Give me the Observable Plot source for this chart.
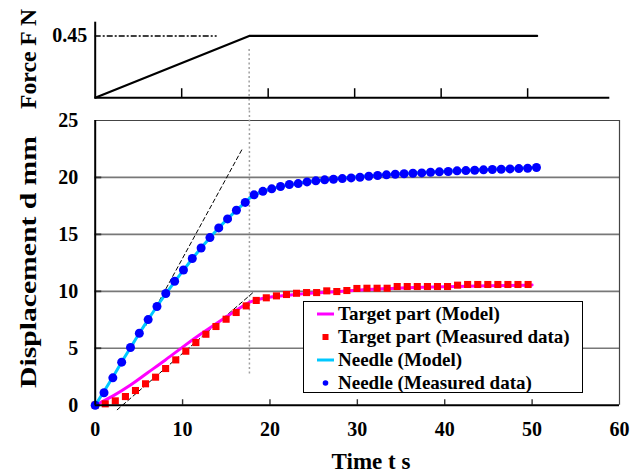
<!DOCTYPE html>
<html><head><meta charset="utf-8">
<script src="https://cdn.jsdelivr.net/npm/d3@7"></script>
<script src="https://cdn.jsdelivr.net/npm/@observablehq/plot@0.6"></script>
<style>
body{margin:0;background:#fff;}
#wrap{position:relative;width:639px;height:474px;overflow:hidden;font-family:"Liberation Serif","Times New Roman",serif;font-weight:bold;}
#wrap svg{display:block;}
#legend{position:absolute;left:303px;top:301px;width:280px;height:92px;border:1.5px solid #000;background:#fff;box-sizing:border-box;}
.row{position:absolute;left:0;height:22px;line-height:22px;font-size:19px;white-space:nowrap;}
.row svg{position:absolute;left:12px;top:0;}
.row span{position:absolute;left:34px;top:0;}
</style></head>
<body><div id="wrap"><div id="legend"></div></div>
<script>
// ---- data ----
const needleT = [0, 1.01, 2.02, 3.03, 4.04, 5.05, 6.06, 7.07, 8.08, 9.09, 10.1, 11.11, 12.12, 13.13, 14.14, 15.15, 16.16, 17.17, 18.18, 19.19, 20.2, 21.21, 22.22, 23.23, 24.24, 25.25, 26.26, 27.27, 28.28, 29.29, 30.3, 31.31, 32.32, 33.33, 34.34, 35.35, 36.36, 37.37, 38.38, 39.39, 40.4, 41.41, 42.42, 43.43, 44.44, 45.45, 46.46, 47.47, 48.48, 49.49, 50.5];
const needleD = [0, 1.09, 2.4, 3.78, 5.07, 6.32, 7.52, 8.67, 9.81, 10.88, 11.87, 12.88, 13.8, 14.72, 15.57, 16.36, 17.12, 17.81, 18.47, 18.78, 19.0, 19.2, 19.38, 19.46, 19.61, 19.7, 19.79, 19.84, 19.9, 19.96, 20.02, 20.1, 20.17, 20.23, 20.28, 20.32, 20.37, 20.4, 20.46, 20.49, 20.52, 20.58, 20.6, 20.63, 20.67, 20.7, 20.72, 20.75, 20.78, 20.81, 20.87];
const targetT = [0, 1.15, 2.3, 3.46, 4.61, 5.76, 6.91, 8.06, 9.22, 10.37, 11.52, 12.67, 13.82, 14.98, 16.13, 17.28, 18.43, 19.58, 20.74, 21.89, 23.04, 24.19, 25.34, 26.5, 27.65, 28.8, 29.95, 31.1, 32.26, 33.41, 34.56, 35.71, 36.86, 38.02, 39.17, 40.32, 41.47, 42.62, 43.78, 44.93, 46.08, 47.23, 48.38, 49.54];
const targetD = [0, 0.12, 0.38, 0.76, 1.29, 1.88, 2.46, 3.22, 3.98, 4.74, 5.5, 6.23, 6.91, 7.55, 8.14, 8.72, 9.2, 9.43, 9.6, 9.72, 9.83, 9.89, 9.89, 10.04, 9.98, 10.07, 10.25, 10.27, 10.27, 10.27, 10.42, 10.42, 10.42, 10.42, 10.42, 10.42, 10.54, 10.6, 10.6, 10.6, 10.6, 10.6, 10.6, 10.6];
const needleModelT = [0, 1, 2, 3, 4, 5, 6, 7, 8, 9, 10, 11, 12, 13, 14, 15, 16, 17, 17.7, 18.5, 19.5, 21, 23, 25, 28, 31, 35, 40, 45, 50.5];
const needleModelD = [0, 1.2, 2.45, 3.75, 5.0, 6.25, 7.45, 8.6, 9.7, 10.75, 11.75, 12.75, 13.7, 14.6, 15.45, 16.25, 17.0, 17.7, 18.2, 18.55, 18.85, 19.15, 19.45, 19.68, 19.92, 20.12, 20.33, 20.55, 20.7, 20.87];
const targetModelT = [0, 2, 4, 6, 8, 10, 12, 14, 16, 17.7, 19, 22, 25, 28, 31, 35, 40, 45, 50];
const targetModelD = [0, 0.8, 1.75, 2.85, 3.95, 5.1, 6.2, 7.25, 8.25, 9.05, 9.35, 9.65, 9.85, 9.98, 10.15, 10.3, 10.4, 10.48, 10.55];
const tangentNeedleT = [5.8, 16.9];
const tangentNeedleD = [7.0, 22.6];
const tangentTargetT = [2.52, 18.0];
const tangentTargetD = [-0.4, 9.85];
const forceT = [0, 17.8, 51.1];
const forceF = [0, 0.45, 0.45];
const forceRefEnd = 14.1;
const rampEndMain = 17.65;
const xTicks = [0, 10, 20, 30, 40, 50, 60];
const xInnerTicks = [10, 20, 30, 40, 50];
const yTicks = [0, 5, 10, 15, 20, 25];
const yGrid = [5, 10, 15, 20];
const forceTicks = [0.45];
const legendLabels = ["Target part (Model)", "Target part (Measured data)", "Needle (Model)", "Needle (Measured data)"];
const titles = {force: "Force F N", disp: "Displacement d mm", time: "Time t s"};
const colors = {targetModel: "#ff00ff", target: "#ff0000", needleModel: "#00c8ff", needle: "#0000ff"};

const font = '"Liberation Serif", "Times New Roman", serif';
const baseStyle = {fontFamily: font, fontWeight: "bold", fontSize: "20px", color: "#000", background: "transparent", overflow: "visible"};

// ---- top panel: force ----
const topPlot = Plot.plot({
  width: 639, height: 110,
  marginTop: 21.7, marginBottom: 12.7, marginLeft: 94.7, marginRight: 29.7,
  x: {domain: [0, 59.5]},
  y: {domain: [0, 0.55]},
  style: baseStyle,
  marks: [
    Plot.ruleY([forceTicks[0]], {x1: 0, x2: forceRefEnd, stroke: "#000", strokeWidth: 1.5, strokeDasharray: "6,2,2,2"}),
    Plot.ruleX([forceT[1]], {y1: 0.351, y2: -0.095, stroke: "#a0a0a0", strokeWidth: 1.5, strokeDasharray: "2,2.5"}),
    Plot.ruleX(xInnerTicks, {y1: 0, y2: 0.066, stroke: "#000", strokeWidth: 1.5}),
    Plot.ruleX([0], {stroke: "#000", strokeWidth: 2}),
    Plot.ruleY([0], {stroke: "#000", strokeWidth: 2}),
    Plot.line(forceT, {x: forceT, y: forceF, stroke: "#000", strokeWidth: 2.2}),
    Plot.axisY(forceTicks, {tickSize: 0, tickPadding: 8, label: null, tickFormat: d => d.toFixed(2)}),
    Plot.axisX([], {label: null, tickSize: 0})
  ]
});

// ---- main panel: displacement ----
const mainPlot = Plot.plot({
  width: 639, height: 364,
  marginTop: 10, marginBottom: 69.3, marginLeft: 94.7, marginRight: 20,
  x: {domain: [0, 60]},
  y: {domain: [0, 25]},
  style: baseStyle,
  marks: [
    Plot.ruleY(yGrid, {stroke: "#787878", strokeWidth: 1.7}),
    Plot.ruleY(yGrid, {x1: 0, x2: 0.75, stroke: "#333", strokeWidth: 1.8}),
    Plot.ruleY([25], {stroke: "#444", strokeWidth: 1.2}),
    Plot.ruleX([60], {stroke: "#444", strokeWidth: 1.2}),
    Plot.ruleX(xInnerTicks, {y1: 0, y2: 0.48, stroke: "#333", strokeWidth: 1.4}),
    Plot.ruleX([rampEndMain], {y1: 2.75, y2: 25.95, stroke: "#a0a0a0", strokeWidth: 1.5, strokeDasharray: "2,2.5"}),
    Plot.line(tangentNeedleT, {x: tangentNeedleT, y: tangentNeedleD, stroke: "#000", strokeWidth: 1, strokeDasharray: "4,3"}),
    Plot.line(tangentTargetT, {x: tangentTargetT, y: tangentTargetD, stroke: "#000", strokeWidth: 1, strokeDasharray: "4,3"}),
    Plot.line(targetModelT, {x: targetModelT, y: targetModelD, stroke: colors.targetModel, strokeWidth: 3, curve: "monotone-x"}),
    Plot.dot(targetT, {x: targetT, y: targetD, symbol: "square", fill: colors.target, r: 4}),
    Plot.line(needleModelT, {x: needleModelT, y: needleModelD, stroke: colors.needleModel, strokeWidth: 3, curve: "monotone-x"}),
    Plot.dot(needleT, {x: needleT, y: needleD, fill: colors.needle, r: 4.5}),
    Plot.ruleX([0], {stroke: "#000", strokeWidth: 2}),
    Plot.ruleY([0], {stroke: "#000", strokeWidth: 2}),
    Plot.axisY(yTicks, {tickSize: 0, tickPadding: 17, label: null}),
    Plot.axisX(xTicks, {tickSize: 0, tickPadding: 17, label: null})
  ]
});

// axis titles as real SVG text
function addTitle(svg, text, x, y, rotate, size, len) {
  const t = d3.select(svg).append("text")
    .attr("transform", `translate(${x},${y})` + (rotate ? ` rotate(${rotate})` : ""))
    .attr("text-anchor", "middle")
    .attr("dominant-baseline", "central")
    .attr("font-size", size)
    .attr("font-weight", "bold")
    .attr("fill", "#000")
    .text(text);
  if (len) t.attr("textLength", len).attr("lengthAdjust", "spacingAndGlyphs");
}
addTitle(topPlot, titles.force, 28, 59, -90, 23, 100);
addTitle(mainPlot, titles.disp, 28, 152, -90, 23, 252);
addTitle(mainPlot, titles.time, 371, 351.5, 0, 23, null);

const wrap = document.getElementById("wrap");
wrap.insertBefore(mainPlot, wrap.firstChild);
wrap.insertBefore(topPlot, wrap.firstChild);

// ---- legend (inside plot area) ----
const legend = document.getElementById("legend");
const rowCenters = [12, 34.8, 58, 80.7];
const swatches = [
  '<svg width="20" height="22"><line x1="1" y1="11" x2="18" y2="11" stroke="' + colors.targetModel + '" stroke-width="3"/></svg>',
  '<svg width="20" height="22"><rect x="6.5" y="8" width="6" height="6" fill="' + colors.target + '"/></svg>',
  '<svg width="20" height="22"><line x1="1" y1="11" x2="18" y2="11" stroke="' + colors.needleModel + '" stroke-width="3"/></svg>',
  '<svg width="20" height="22"><circle cx="9.5" cy="11" r="2.8" fill="' + colors.needle + '"/></svg>'
];
legendLabels.forEach((lab, i) => {
  const row = document.createElement("div");
  row.className = "row";
  row.style.top = (rowCenters[i] - 11) + "px";
  row.innerHTML = swatches[i] + "<span></span>";
  row.querySelector("span").textContent = lab;
  legend.appendChild(row);
});
</script>
</body></html>
